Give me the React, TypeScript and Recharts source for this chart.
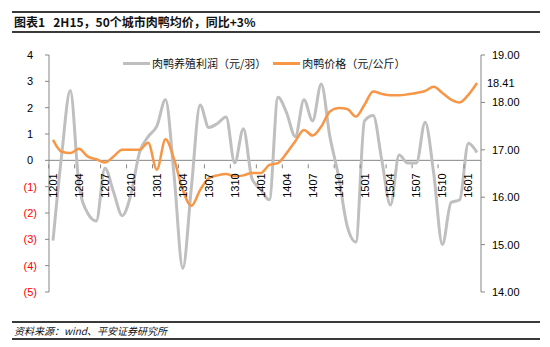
import { ComposedChart, Line, XAxis, YAxis, ReferenceLine, LabelList } from 'recharts'

const months = [
  '1201', '1202', '1203', '1204', '1205', '1206', '1207', '1208', '1209', '1210', '1211', '1212',
  '1301', '1302', '1303', '1304', '1305', '1306', '1307', '1308', '1309', '1310', '1311', '1312',
  '1401', '1402', '1403', '1404', '1405', '1406', '1407', '1408', '1409', '1410', '1411', '1412',
  '1501', '1502', '1503', '1504', '1505', '1506', '1507', '1508', '1509', '1510', '1511', '1512',
  '1601', '1602',
]

// 肉鸭养殖利润（元/羽）
const profit = [
  -3.05, 0.2, 2.65, -0.9, -2.0, -2.3, -0.3, -1.2, -2.1, -1.3, 0.3, 0.9,
  1.3, 2.3, -0.6, -4.1, -1.0, 2.1, 1.25, 1.4, 1.65, -0.1, 1.2, -0.7,
  -1.1, -1.5, 2.4, 1.8, 0.9, 2.3, 1.5, 2.9, 0.9, -0.6, -2.5, -3.1,
  1.5, 1.7, 0.0, -1.7, 0.2, -0.1, -0.1, 1.45, -0.5, -3.2, -1.6, -1.5,
  0.65, 0.3,
]

// 肉鸭价格（元/公斤）
const price = [
  17.21, 16.96, 16.93, 17.02, 16.86, 16.8, 16.73, 16.86, 17.0, 17.0, 17.0, 17.15,
  16.58, 17.22, 16.8, 16.15, 15.82, 16.15, 16.4, 16.46, 16.49, 16.44, 16.46, 16.51,
  16.51, 16.68, 16.72, 16.93, 17.18, 17.42, 17.3, 17.49, 17.81, 17.88, 17.86, 17.7,
  17.95, 18.23, 18.18, 18.15, 18.15, 18.17, 18.2, 18.24, 18.33, 18.2, 18.06, 18.0,
  18.16, 18.41,
]

const leftTicks = [-5, -4, -3, -2, -1, 0, 1, 2, 3, 4]
const rightTicks = [14, 15, 16, 17, 18, 19]

const GRAY = '#bfbfbf'
const ORANGE = '#f79646'
const AXIS = '#868686'
const FONT = '"Liberation Sans", Arial, sans-serif'
const CJK = '"Noto Sans CJK SC", "Liberation Sans", sans-serif'

const W = 550
const H = 347
const M = { top: 55, right: 19, bottom: 25, left: 9 }
const LEFT_W = 40
const RIGHT_W = 50
const X_H = 30
const plotW = W - M.left - M.right - LEFT_W - RIGHT_W
const plotH = H - M.top - M.bottom - X_H
const PAD = 4
const step = (plotW - 2 * PAD) / (months.length - 1)
// the category axis crosses at 0 on the left scale
const zeroShift = (plotH * (0 - leftTicks[0])) / (leftTicks[leftTicks.length - 1] - leftTicks[0])

const data = months.map((m, i) => ({ month: m, profit: profit[i], price: price[i] }))

function MonthTick(props: any) {
  const { x, y, index, payload } = props
  if (index % 3 !== 0) return null
  const y0 = y - zeroShift
  const bx = x - step / 2
  return (
    <g>
      <line x1={bx} x2={bx} y1={y0} y2={y0 - 4} stroke={AXIS} />
      <text
        x={0}
        y={0}
        transform={`translate(${x + 4},${y0 + 5}) rotate(-90)`}
        textAnchor="end"
        fontSize={11}
        fontFamily={FONT}
        fill="#000"
      >
        {payload.value}
      </text>
    </g>
  )
}

function LeftTick(props: any) {
  const { x, y, payload } = props
  const v = payload.value
  const neg = v < 0
  return (
    <text
      x={neg ? x - 6 : x - 10}
      y={y + 4}
      textAnchor="end"
      fontSize={11}
      fontFamily={FONT}
      fill={neg ? '#ff0000' : '#000'}
    >
      {neg ? `(${Math.abs(v)})` : v}
    </text>
  )
}

function LastLabel(props: any) {
  const { x, y, index, value } = props
  if (index !== price.length - 1) return null
  return (
    <text x={x + 10} y={y + 4} fontSize={11} fontFamily={FONT} fill="#000">
      {Number(value).toFixed(2)}
    </text>
  )
}

export default function App() {
  return (
    <div
      style={{
        position: 'absolute',
        left: 0,
        top: 0,
        width: W,
        height: H,
        background: '#fff',
        fontFamily: CJK,
      }}
    >
      <div style={{ position: 'absolute', left: 12, top: 11, width: 528, borderTop: '2px solid #3a3a3a' }} />
      <div
        style={{
          position: 'absolute',
          left: 14,
          top: 14,
          fontSize: 12,
          fontWeight: 'bold',
          color: '#111',
          whiteSpace: 'pre',
          lineHeight: '16px',
        }}
      >
        {'图表1   2H15，50个城市肉鸭均价，同比+3%'}
      </div>
      <div style={{ position: 'absolute', left: 12, top: 31, width: 528, borderTop: '2px solid #3a3a3a' }} />

      <ComposedChart width={W} height={H} data={data} margin={M} style={{ position: 'absolute', left: 0, top: 0 }}>
        <XAxis
          dataKey="month"
          interval={0}
          height={X_H}
          axisLine={false}
          tickLine={false}
          padding={{ left: PAD, right: PAD }}
          tick={<MonthTick />}
        />
        <YAxis
          yAxisId="left"
          width={LEFT_W}
          domain={[leftTicks[0], leftTicks[leftTicks.length - 1]]}
          ticks={leftTicks}
          interval={0}
          stroke={AXIS}
          tickSize={4}
          tick={<LeftTick />}
        />
        <YAxis
          yAxisId="right"
          orientation="right"
          width={RIGHT_W}
          domain={[rightTicks[0], rightTicks[rightTicks.length - 1]]}
          ticks={rightTicks}
          interval={0}
          stroke={AXIS}
          tickSize={4}
          tickMargin={7}
          tickFormatter={(v: number) => v.toFixed(2)}
          tick={{ fontSize: 11, fontFamily: FONT, fill: '#000' }}
        />
        <ReferenceLine yAxisId="left" y={0} stroke={AXIS} strokeWidth={1} />
        <Line
          yAxisId="left"
          dataKey="profit"
          type="monotone"
          stroke={GRAY}
          strokeWidth={3}
          dot={false}
          isAnimationActive={false}
        />
        <Line
          yAxisId="right"
          dataKey="price"
          type="monotone"
          stroke={ORANGE}
          strokeWidth={2.5}
          dot={false}
          isAnimationActive={false}
        >
          <LabelList dataKey="price" content={<LastLabel />} />
        </Line>
      </ComposedChart>

      <div style={{ position: 'absolute', left: 123, top: 56, display: 'flex', alignItems: 'center', fontSize: 11, color: '#111', lineHeight: '14px' }}>
        <span style={{ display: 'inline-block', width: 27, height: 3, background: GRAY, marginRight: 2 }} />
        <span>肉鸭养殖利润（元/羽）</span>
        <span style={{ display: 'inline-block', width: 27, height: 3, background: ORANGE, marginLeft: 7, marginRight: 2 }} />
        <span>肉鸭价格（元/公斤）</span>
      </div>

      <div style={{ position: 'absolute', left: 12, top: 321, width: 528, borderTop: '2px solid #3a3a3a' }} />
      <div
        style={{
          position: 'absolute',
          left: 14,
          top: 324,
          fontSize: 10,
          fontStyle: 'italic',
          color: '#111',
          lineHeight: '14px',
        }}
      >
        资料来源：wind、平安证券研究所
      </div>
      <div style={{ position: 'absolute', left: 12, top: 338, width: 528, borderTop: '2px solid #3a3a3a' }} />
    </div>
  )
}
